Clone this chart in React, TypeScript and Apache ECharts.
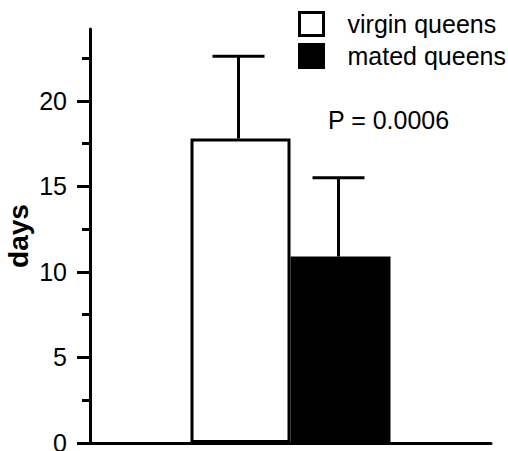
import React, { useEffect, useRef } from "react";
import * as echarts from "echarts";

const groups = ["virgin queens", "mated queens"];
const means = [17.8, 10.9];
const errors = [4.8, 4.6];
const majorTicks = [0, 5, 10, 15, 20];
const minorTicks = [2.5, 7.5, 12.5, 17.5, 22.5];
const pLabel = "P = 0.0006";

const BAR_WIDTH = 100;
const CAP_WIDTH = 52;
const INK = "#000";
const FONT = "Liberation Sans, Arial, Helvetica, sans-serif";

export default function App() {
  const ref = useRef<HTMLDivElement>(null);
  useEffect(() => {
    if (!ref.current) return;
    const chart = echarts.init(ref.current, null, { renderer: "svg" });
    const fills = ["#fff", INK];
    const barSeries = groups.map((g, i) => ({
      name: g,
      type: "bar",
      data: [means[i]],
      barWidth: BAR_WIDTH,
      barGap: "0%",
      itemStyle: { color: fills[i], borderColor: INK, borderWidth: 3 },
      yAxisIndex: 0,
      xAxisIndex: 0,
    }));
    const errorSeries = {
      type: "custom",
      xAxisIndex: 0,
      yAxisIndex: 0,
      silent: true,
      z: 1,
      data: groups.map((g, i) => [0, means[i], means[i] + errors[i], i]),
      renderItem: (params: any, api: any) => {
        const idx = api.value(3);
        const base = api.coord([api.value(0), api.value(1)]);
        const top = api.coord([api.value(0), api.value(2)]);
        const off = (idx - (groups.length - 1) / 2) * BAR_WIDTH - 2;
        const x = base[0] + off;
        return {
          type: "group",
          children: [
            {
              type: "line",
              shape: { x1: x, y1: base[1], x2: x, y2: top[1] },
              style: { stroke: INK, lineWidth: 3 },
            },
            {
              type: "line",
              shape: { x1: x - CAP_WIDTH / 2, y1: top[1], x2: x + CAP_WIDTH / 2, y2: top[1] },
              style: { stroke: INK, lineWidth: 3 },
            },
          ],
        };
      },
    };
    chart.setOption({
      animation: false,
      backgroundColor: "#fff",
      textStyle: { fontFamily: FONT },
      grid: { left: 90, right: 17, top: 29, bottom: 8, containLabel: false, outerBoundsMode: "none" },
      legend: {
        orient: "vertical",
        left: 298,
        top: 11,
        padding: 0,
        icon: "rect",
        itemWidth: 24,
        itemHeight: 23,
        itemGap: 6,
        selectedMode: false,
        textStyle: { fontSize: 25, lineHeight: 25, color: INK, fontFamily: FONT, padding: [0, 0, 0, 19] },
        data: [
          { name: groups[0], itemStyle: { color: "#fff", borderColor: INK, borderWidth: 3 } },
          { name: groups[1], itemStyle: { color: INK, borderColor: INK, borderWidth: 3 } },
        ],
      },
      xAxis: {
        type: "category",
        data: [""],
        axisLine: { show: true, lineStyle: { color: INK, width: 3 } },
        axisTick: { show: false },
        axisLabel: { show: false },
        splitLine: { show: false },
      },
      yAxis: [
        {
          type: "value",
          min: 0,
          max: 24.2,
          interval: 5,
          name: "days",
          nameLocation: "middle",
          nameRotate: 90,
          nameGap: 58,
          nameMoveOverlap: false,
          nameTextStyle: { fontSize: 28, fontWeight: "bold", color: INK, fontFamily: FONT },
          axisLine: { show: true, lineStyle: { color: INK, width: 3 } },
          axisTick: { show: true, customValues: majorTicks, length: 13, lineStyle: { color: INK, width: 3 } },
          axisLabel: {
            customValues: majorTicks,
            margin: 23,
            fontSize: 25,
            color: INK,
            fontFamily: FONT,
          },
          splitLine: { show: false },
        },
        {
          type: "value",
          min: 0,
          max: 24.2,
          interval: 5,
          position: "left",
          axisLine: { show: false },
          axisTick: { show: true, customValues: minorTicks, length: 8, lineStyle: { color: INK, width: 3 } },
          axisLabel: { show: false },
          splitLine: { show: false },
        },
      ],
      graphic: [
        {
          type: "text",
          left: 328,
          top: 107,
          style: { text: pLabel, fontSize: 25, fill: INK, fontFamily: FONT },
        },
      ],
      series: [...barSeries, errorSeries],
    });
    return () => chart.dispose();
  }, []);
  return (
    <div
      ref={ref}
      style={{ position: "fixed", left: 0, top: 0, width: 508, height: 451, background: "#fff" }}
    />
  );
}
